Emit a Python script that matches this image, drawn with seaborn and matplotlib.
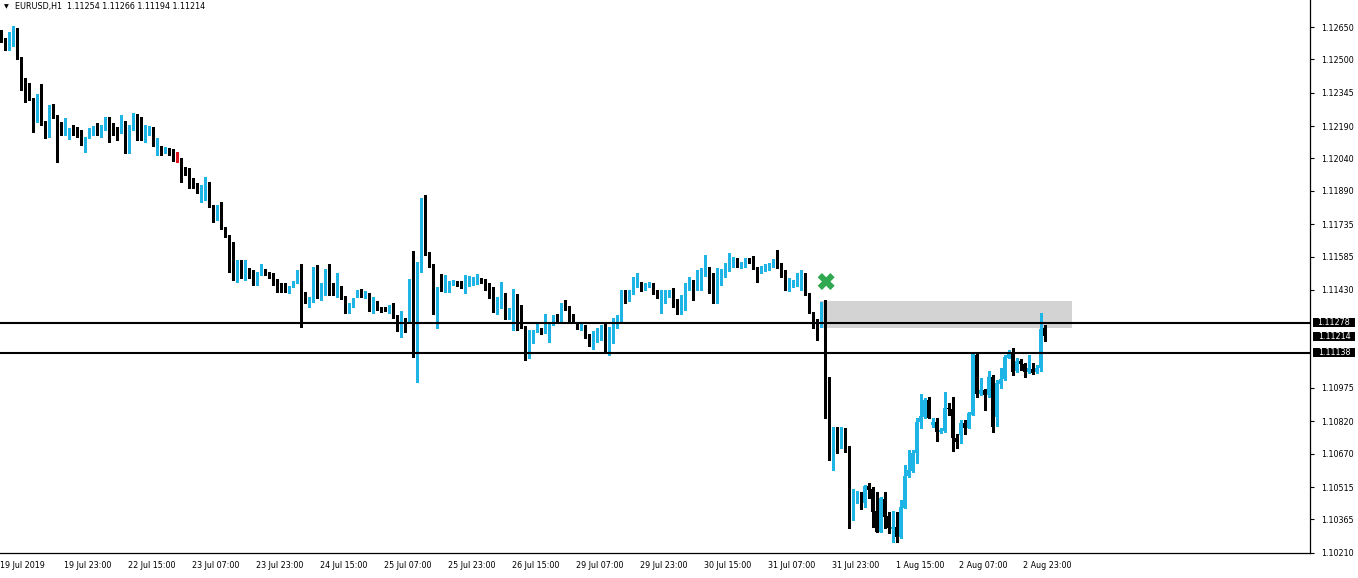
import numpy as np
import matplotlib.pyplot as plt
import matplotlib.transforms as mtransforms
from matplotlib.patches import Rectangle
import seaborn as sns

# EURUSD H1 candles
symbol = "EURUSD,H1"
last_ohlc = [1.11254, 1.11266, 1.11194, 1.11214]

opens = [
    1.12622, 1.12599, 1.12566, 1.12580, 1.12645, 1.12511, 1.12381, 1.12371, 1.12320, 1.12251,
    1.12339, 1.12214, 1.12195, 1.12283, 1.12232, 1.12186, 1.12181, 1.12153, 1.12176, 1.12176,
    1.12172, 1.12111, 1.12135, 1.12167, 1.12176, 1.12176, 1.12181, 1.12228, 1.12190, 1.12167,
    1.12158, 1.12214, 1.12070, 1.12172, 1.12241, 1.12218, 1.12135, 1.12176, 1.12181, 1.12098,
    1.12098, 1.12084, 1.12088, 1.12084, 1.12042, 1.12042, 1.11996, 1.11991, 1.11949, 1.11917,
    1.11889, 1.11884, 1.11931, 1.11824, 1.11755, 1.11810, 1.11722, 1.11685, 1.11597, 1.11471,
    1.11560, 1.11490, 1.11532, 1.11495, 1.11476, 1.11504, 1.11522, 1.11513, 1.11509, 1.11481,
    1.11453, 1.11453, 1.11425, 1.11448, 1.11462, 1.11513, 1.11383, 1.11374, 1.11374, 1.11536,
    1.11397, 1.11416, 1.11481, 1.11420, 1.11402, 1.11444, 1.11402, 1.11351, 1.11355, 1.11402,
    1.11420, 1.11411, 1.11416, 1.11346, 1.11379, 1.11346, 1.11346, 1.11337, 1.11351, 1.11300,
    1.11263, 1.11286, 1.11281, 1.11388, 1.11137, 1.11536, 1.11806, 1.11601, 1.11546, 1.11323,
    1.11444, 1.11425, 1.11434, 1.11458, 1.11467, 1.11467, 1.11439, 1.11453, 1.11458, 1.11462,
    1.11481, 1.11476, 1.11448, 1.11444, 1.11332, 1.11346, 1.11411, 1.11300, 1.11328, 1.11346,
    1.11300, 1.11258, 1.11198, 1.11207, 1.11240, 1.11249, 1.11230, 1.11230, 1.11272, 1.11314,
    1.11286, 1.11360, 1.11351, 1.11314, 1.11277, 1.11258, 1.11267, 1.11221, 1.11193, 1.11198,
    1.11202, 1.11235, 1.11184, 1.11212, 1.11253, 1.11300, 1.11425, 1.11383, 1.11416, 1.11458,
    1.11467, 1.11439, 1.11448, 1.11462, 1.11416, 1.11369, 1.11369, 1.11411, 1.11420, 1.11365,
    1.11323, 1.11351, 1.11439, 1.11462, 1.11462, 1.11490, 1.11495, 1.11536, 1.11490, 1.11369,
    1.11462, 1.11509, 1.11522, 1.11550, 1.11574, 1.11536, 1.11541, 1.11574, 1.11564, 1.11536,
    1.11522, 1.11527, 1.11532, 1.11541, 1.11564, 1.11541, 1.11518, 1.11434, 1.11444, 1.11453,
    1.11453, 1.11509, 1.11416, 1.11328, 1.11290, 1.11267, 1.11369, 1.10840, 1.10687, 1.10757,
    1.10701, 1.10789, 1.10706, 1.10400, 1.10483, 1.10488, 1.10441, 1.10520, 1.10506, 1.10404,
    1.10307, 1.10460, 1.10381, 1.10321, 1.10330, 1.10284, 1.10418, 1.10567, 1.10590, 1.10673,
    1.10817, 1.10840, 1.10919, 1.10803, 1.10817, 1.10771, 1.10775, 1.10882, 1.10878, 1.10743,
    1.10757, 1.10813, 1.10789, 1.10850, 1.11128, 1.10947, 1.10966, 1.10942, 1.11026, 1.10840,
    1.10994, 1.11017, 1.11114, 1.11133, 1.11054, 1.11100, 1.11086, 1.11049, 1.11063, 1.11049,
    1.11068, 1.11254,
]
highs = [
    1.12636, 1.12599, 1.12627, 1.12654, 1.12645, 1.12511, 1.12413, 1.12390, 1.12320, 1.12339,
    1.12385, 1.12214, 1.12288, 1.12292, 1.12241, 1.12209, 1.12228, 1.12181, 1.12195, 1.12186,
    1.12172, 1.12139, 1.12181, 1.12190, 1.12204, 1.12195, 1.12232, 1.12232, 1.12204, 1.12186,
    1.12241, 1.12214, 1.12195, 1.12251, 1.12246, 1.12232, 1.12195, 1.12190, 1.12186, 1.12135,
    1.12098, 1.12093, 1.12088, 1.12084, 1.12070, 1.12042, 1.12000, 1.11996, 1.11949, 1.11926,
    1.11917, 1.11954, 1.11931, 1.11824, 1.11824, 1.11838, 1.11722, 1.11685, 1.11652, 1.11569,
    1.11569, 1.11569, 1.11532, 1.11522, 1.11513, 1.11550, 1.11527, 1.11513, 1.11509, 1.11481,
    1.11462, 1.11462, 1.11448, 1.11471, 1.11522, 1.11550, 1.11420, 1.11397, 1.11536, 1.11546,
    1.11462, 1.11527, 1.11550, 1.11462, 1.11509, 1.11448, 1.11402, 1.11369, 1.11393, 1.11430,
    1.11434, 1.11425, 1.11416, 1.11397, 1.11379, 1.11351, 1.11351, 1.11360, 1.11369, 1.11314,
    1.11332, 1.11300, 1.11481, 1.11611, 1.11560, 1.11857, 1.11871, 1.11606, 1.11550, 1.11444,
    1.11504, 1.11499, 1.11471, 1.11476, 1.11471, 1.11471, 1.11499, 1.11495, 1.11490, 1.11504,
    1.11485, 1.11481, 1.11462, 1.11444, 1.11397, 1.11467, 1.11416, 1.11346, 1.11434, 1.11411,
    1.11360, 1.11263, 1.11244, 1.11244, 1.11281, 1.11253, 1.11318, 1.11272, 1.11314, 1.11318,
    1.11369, 1.11383, 1.11355, 1.11318, 1.11281, 1.11281, 1.11267, 1.11226, 1.11240, 1.11253,
    1.11267, 1.11277, 1.11258, 1.11300, 1.11314, 1.11430, 1.11430, 1.11430, 1.11490, 1.11509,
    1.11467, 1.11462, 1.11467, 1.11462, 1.11430, 1.11430, 1.11430, 1.11430, 1.11439, 1.11388,
    1.11406, 1.11462, 1.11490, 1.11476, 1.11522, 1.11532, 1.11592, 1.11536, 1.11509, 1.11532,
    1.11527, 1.11555, 1.11601, 1.11583, 1.11578, 1.11560, 1.11578, 1.11578, 1.11587, 1.11536,
    1.11541, 1.11550, 1.11555, 1.11574, 1.11615, 1.11555, 1.11522, 1.11485, 1.11476, 1.11509,
    1.11522, 1.11509, 1.11416, 1.11328, 1.11295, 1.11374, 1.11383, 1.11026, 1.10794, 1.10794,
    1.10794, 1.10789, 1.10706, 1.10506, 1.10497, 1.10492, 1.10525, 1.10534, 1.10516, 1.10492,
    1.10469, 1.10492, 1.10400, 1.10404, 1.10400, 1.10455, 1.10618, 1.10687, 1.10687, 1.10836,
    1.10947, 1.10929, 1.10933, 1.10836, 1.10836, 1.10789, 1.10956, 1.10905, 1.10933, 1.10761,
    1.10827, 1.10827, 1.10864, 1.11142, 1.11133, 1.11021, 1.10970, 1.11054, 1.11035, 1.11012,
    1.11068, 1.11128, 1.11151, 1.11161, 1.11114, 1.11110, 1.11091, 1.11128, 1.11091, 1.11082,
    1.11323, 1.11266,
]
lows = [
    1.12580, 1.12543, 1.12543, 1.12562, 1.12501, 1.12357, 1.12302, 1.12311, 1.12163, 1.12209,
    1.12195, 1.12135, 1.12139, 1.12228, 1.12024, 1.12149, 1.12149, 1.12130, 1.12149, 1.12139,
    1.12102, 1.12070, 1.12135, 1.12149, 1.12149, 1.12139, 1.12172, 1.12116, 1.12149, 1.12125,
    1.12158, 1.12065, 1.12065, 1.12172, 1.12125, 1.12125, 1.12116, 1.12149, 1.12098, 1.12056,
    1.12056, 1.12065, 1.12056, 1.12028, 1.12024, 1.11931, 1.11963, 1.11903, 1.11903, 1.11880,
    1.11838, 1.11847, 1.11815, 1.11745, 1.11755, 1.11713, 1.11676, 1.11513, 1.11476, 1.11467,
    1.11485, 1.11476, 1.11485, 1.11453, 1.11453, 1.11499, 1.11499, 1.11485, 1.11453, 1.11420,
    1.11420, 1.11420, 1.11416, 1.11444, 1.11462, 1.11258, 1.11369, 1.11351, 1.11374, 1.11393,
    1.11383, 1.11406, 1.11406, 1.11406, 1.11397, 1.11388, 1.11323, 1.11323, 1.11351, 1.11397,
    1.11397, 1.11393, 1.11332, 1.11323, 1.11337, 1.11328, 1.11332, 1.11323, 1.11300, 1.11240,
    1.11212, 1.11235, 1.11281, 1.11119, 1.11003, 1.11513, 1.11592, 1.11536, 1.11318, 1.11253,
    1.11425, 1.11420, 1.11420, 1.11453, 1.11448, 1.11439, 1.11416, 1.11448, 1.11453, 1.11458,
    1.11462, 1.11430, 1.11393, 1.11328, 1.11318, 1.11346, 1.11295, 1.11295, 1.11244, 1.11244,
    1.11253, 1.11105, 1.11114, 1.11184, 1.11235, 1.11226, 1.11230, 1.11188, 1.11267, 1.11281,
    1.11281, 1.11337, 1.11286, 1.11281, 1.11249, 1.11244, 1.11207, 1.11170, 1.11156, 1.11188,
    1.11198, 1.11142, 1.11128, 1.11184, 1.11253, 1.11281, 1.11369, 1.11379, 1.11411, 1.11444,
    1.11425, 1.11430, 1.11444, 1.11411, 1.11393, 1.11323, 1.11369, 1.11397, 1.11351, 1.11318,
    1.11318, 1.11337, 1.11430, 1.11383, 1.11430, 1.11430, 1.11495, 1.11416, 1.11369, 1.11369,
    1.11453, 1.11490, 1.11518, 1.11536, 1.11536, 1.11532, 1.11536, 1.11555, 1.11527, 1.11467,
    1.11509, 1.11518, 1.11522, 1.11536, 1.11532, 1.11490, 1.11430, 1.11425, 1.11444, 1.11448,
    1.11430, 1.11406, 1.11323, 1.11253, 1.11198, 1.11258, 1.10836, 1.10641, 1.10594, 1.10673,
    1.10697, 1.10678, 1.10325, 1.10363, 1.10441, 1.10414, 1.10423, 1.10465, 1.10330, 1.10307,
    1.10307, 1.10325, 1.10302, 1.10260, 1.10260, 1.10279, 1.10418, 1.10562, 1.10585, 1.10627,
    1.10789, 1.10836, 1.10836, 1.10794, 1.10729, 1.10766, 1.10771, 1.10850, 1.10683, 1.10697,
    1.10720, 1.10761, 1.10789, 1.10850, 1.10933, 1.10942, 1.10873, 1.10933, 1.10771, 1.10799,
    1.10975, 1.11012, 1.11114, 1.11035, 1.11049, 1.11059, 1.11026, 1.11045, 1.11040, 1.11045,
    1.11054, 1.11194,
]
closes = [
    1.12589, 1.12566, 1.12613, 1.12650, 1.12506, 1.12381, 1.12371, 1.12320, 1.12251, 1.12339,
    1.12209, 1.12195, 1.12283, 1.12232, 1.12181, 1.12181, 1.12186, 1.12176, 1.12172, 1.12167,
    1.12111, 1.12139, 1.12172, 1.12176, 1.12172, 1.12181, 1.12228, 1.12186, 1.12163, 1.12163,
    1.12214, 1.12074, 1.12181, 1.12232, 1.12218, 1.12135, 1.12181, 1.12181, 1.12102, 1.12107,
    1.12084, 1.12088, 1.12074, 1.12033, 1.12042, 1.11987, 1.11987, 1.11940, 1.11912, 1.11884,
    1.11894, 1.11931, 1.11824, 1.11755, 1.11815, 1.11717, 1.11680, 1.11592, 1.11476, 1.11555,
    1.11490, 1.11532, 1.11490, 1.11476, 1.11509, 1.11513, 1.11509, 1.11495, 1.11476, 1.11453,
    1.11439, 1.11425, 1.11444, 1.11467, 1.11513, 1.11379, 1.11374, 1.11383, 1.11536, 1.11397,
    1.11416, 1.11481, 1.11411, 1.11406, 1.11444, 1.11393, 1.11351, 1.11360, 1.11388, 1.11420,
    1.11406, 1.11420, 1.11337, 1.11379, 1.11341, 1.11337, 1.11337, 1.11351, 1.11300, 1.11267,
    1.11281, 1.11281, 1.11393, 1.11137, 1.11541, 1.11806, 1.11597, 1.11541, 1.11323, 1.11444,
    1.11430, 1.11439, 1.11467, 1.11471, 1.11453, 1.11444, 1.11462, 1.11467, 1.11476, 1.11481,
    1.11467, 1.11453, 1.11439, 1.11332, 1.11351, 1.11411, 1.11300, 1.11337, 1.11346, 1.11277,
    1.11253, 1.11198, 1.11212, 1.11240, 1.11253, 1.11230, 1.11272, 1.11272, 1.11314, 1.11286,
    1.11355, 1.11346, 1.11290, 1.11281, 1.11258, 1.11272, 1.11212, 1.11188, 1.11230, 1.11240,
    1.11240, 1.11198, 1.11216, 1.11258, 1.11304, 1.11430, 1.11388, 1.11420, 1.11462, 1.11467,
    1.11444, 1.11458, 1.11462, 1.11416, 1.11402, 1.11416, 1.11416, 1.11420, 1.11360, 1.11323,
    1.11351, 1.11444, 1.11462, 1.11444, 1.11509, 1.11509, 1.11536, 1.11490, 1.11369, 1.11509,
    1.11513, 1.11546, 1.11560, 1.11578, 1.11541, 1.11550, 1.11574, 1.11560, 1.11527, 1.11522,
    1.11532, 1.11541, 1.11550, 1.11569, 1.11536, 1.11513, 1.11434, 1.11462, 1.11467, 1.11495,
    1.11509, 1.11411, 1.11328, 1.11290, 1.11281, 1.11369, 1.10840, 1.10687, 1.10757, 1.10687,
    1.10785, 1.10687, 1.10400, 1.10488, 1.10488, 1.10441, 1.10520, 1.10502, 1.10400, 1.10307,
    1.10465, 1.10377, 1.10325, 1.10330, 1.10284, 1.10423, 1.10567, 1.10595, 1.10673, 1.10817,
    1.10845, 1.10919, 1.10836, 1.10817, 1.10771, 1.10780, 1.10882, 1.10878, 1.10743, 1.10724,
    1.10813, 1.10789, 1.10859, 1.11137, 1.10947, 1.10966, 1.10942, 1.11026, 1.10794, 1.10998,
    1.11017, 1.11119, 1.11133, 1.11049, 1.11100, 1.11086, 1.11049, 1.11068, 1.11045, 1.11068,
    1.11249, 1.11214,
]

date_labels = ["19 Jul 2019", "19 Jul 23:00", "22 Jul 15:00", "23 Jul 07:00", "23 Jul 23:00",
               "24 Jul 15:00", "25 Jul 07:00", "25 Jul 23:00", "26 Jul 15:00", "29 Jul 07:00",
               "29 Jul 23:00", "30 Jul 15:00", "31 Jul 07:00", "31 Jul 23:00", "1 Aug 15:00",
               "2 Aug 07:00", "2 Aug 23:00"]
bars_per_label = 16

price_ticks = [1.12650, 1.12500, 1.12345, 1.12190, 1.12040, 1.11890, 1.11735, 1.11585,
               1.11430, 1.10975, 1.10820, 1.10670, 1.10515, 1.10365, 1.10210]
levels = [1.11278, 1.11138]
price_tags = [1.11278, 1.11214, 1.11138]

zone_bars = [204.8, 267.7]
zone_prices = [1.11255, 1.11379]
marker_bar = [206.3]
marker_price = [1.11469]

BULL = "#1eb4e6"
BEAR = "black"
DOJI = "#e0141e"

sns.set_theme(style="white")
plt.rcParams['font.family'] = ['DejaVu Sans']

W, H = 1358, 578
fig = plt.figure(figsize=(W / 100, H / 100), dpi=100)
fig.patch.set_facecolor("white")
ax = fig.add_axes([0, 25 / H, 1310 / W, 553 / H])
ax.set_facecolor("white")

o = np.array(opens)
hi = np.array(highs)
lo = np.array(lows)
c = np.array(closes)
x = np.arange(len(o))
cols = np.where(c > o, BULL, np.where(c < o, BEAR, DOJI))

# supply zone rectangle (behind candles)
ax.add_patch(Rectangle((zone_bars[0], zone_prices[0]), zone_bars[1] - zone_bars[0],
                       zone_prices[1] - zone_prices[0], facecolor="#d3d3d3",
                       edgecolor="none", zorder=1))

ax.vlines(x, lo, hi, colors=cols, linewidth=0.8, zorder=3, antialiased=False)
px = (1.127753 - 1.102094) / 553
body_lo = np.minimum(o, c)
body_h = np.maximum(np.abs(c - o), px)
ax.bar(x, body_h, bottom=body_lo, width=0.72, color=cols, linewidth=0, zorder=3,
       antialiased=False)

for lv in levels:
    ax.axhline(lv, color="black", linewidth=1.5, zorder=4)

sns.scatterplot(x=marker_bar, y=marker_price, marker="X", s=150, color="#2fa84f",
                edgecolor="none", ax=ax, zorder=5, legend=False)

ax.set_xlim(-0.175, -0.175 + 1310 / 4)
ax.set_ylim(1.102094, 1.127753)

# axes: right price scale + bottom time scale
ax.yaxis.tick_right()
ax.set_yticks(price_ticks)
ax.set_yticklabels([f"{v:.5f}" for v in price_ticks])
xt = np.arange(len(date_labels)) * bars_per_label - 0.35
ax.set_xticks(xt)
ax.set_xticklabels(date_labels, ha="left")
ax.tick_params(axis="both", direction="out", length=3, width=0.8, color="black",
               labelsize=5.8, labelcolor="black")
ax.tick_params(axis="x", pad=3)
ax.tick_params(axis="y", pad=5)
ax.set_xlabel("")
ax.set_ylabel("")
for side in ["left", "top"]:
    ax.spines[side].set_visible(False)
for side in ["right", "bottom"]:
    ax.spines[side].set_visible(True)
    ax.spines[side].set_color("black")
    ax.spines[side].set_linewidth(0.9)

# price tags on the scale
trans = mtransforms.blended_transform_factory(ax.transAxes, ax.transData)
for v in price_tags:
    ax.add_patch(Rectangle((1313 / 1310, v - 4.5 * px), 42 / 1310, 9 * px, transform=trans,
                           facecolor="black", edgecolor="none", clip_on=False, zorder=6))
    ax.text(1334 / 1310, v, f"{v:.5f}", transform=trans, color="white", ha="center",
            va="center", fontsize=5.8, clip_on=False, zorder=7)

# header line
fig.text(4 / W, 1 - 7 / H, "\u25bc", fontsize=4.5, va="center", ha="left", color="black")
fig.text(15 / W, 1 - 7 / H, symbol + "  " + " ".join(f"{v:.5f}" for v in last_ohlc),
         fontsize=5.8, va="center", ha="left", color="black")

fig.savefig("out.png", dpi=100)
